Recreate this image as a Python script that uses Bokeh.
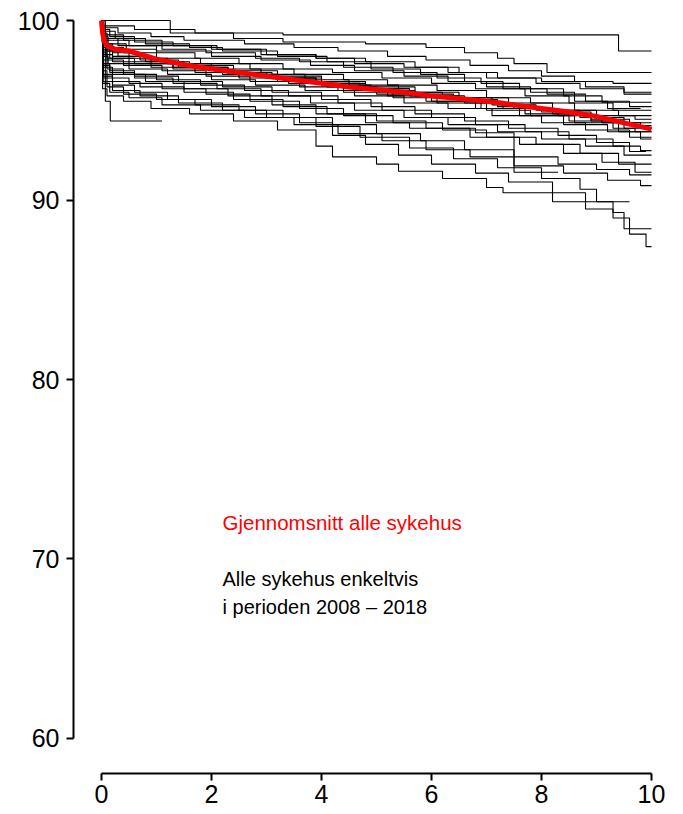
from bokeh.plotting import figure
from bokeh.models import Range1d, FixedTicker
from bokeh.core.properties import value
from bokeh.embed import file_html
from bokeh.resources import INLINE

# ---- data: Kaplan-Meier step curves per hospital (years, survival %) ----
h01 = [(0,100),(1.25,99.3),(3.3,99.2),(9.4,98.3),(10,98.3)]
h02 = [(0,100),(0.04,99.7),(0.6,99.5),(1.7,99.3),(2.4,99.0),(3.3,98.8),(4.8,98.7),(5.9,98.5),(6.6,98.2),(7.2,97.9),(7.5,97.6),(8.1,97.1),(10,97.1)]
h03 = [(0,100),(0.03,99.6),(0.3,99.3),(0.9,99.1),(1.5,98.9),(2.6,98.7),(3.5,98.5),(4.3,98.3),(5.2,98.0),(5.9,97.8),(6.7,97.5),(7.4,97.2),(8.0,96.9),(8.6,96.6),(9.3,96.5),(10,96.5)]
h04 = [(0,100),(0.02,99.5),(0.15,99.1),(0.6,98.8),(1.3,98.6),(2.1,98.4),(3.0,98.1),(3.9,97.9),(4.6,97.6),(5.5,97.4),(6.3,97.1),(7.0,96.8),(7.9,96.5),(8.7,96.2),(9.5,95.9),(10,95.9)]
h05 = [(0,100),(0.02,99.3),(0.1,98.9),(0.5,98.6),(1.1,98.4),(1.9,98.2),(2.8,97.9),(3.6,97.7),(4.4,97.4),(5.3,97.1),(6.1,96.8),(6.9,96.5),(7.6,96.2),(8.4,95.8),(9.1,95.45),(10,95.45)]
h06 = [(0,100),(0.03,99.4),(0.25,99.0),(0.8,98.7),(1.6,98.5),(2.2,98.3),(3.2,98.0),(4.1,97.7),(4.9,97.3),(5.8,97.0),(6.6,96.6),(7.3,96.2),(8.1,95.9),(8.8,95.5),(9.6,95.2),(10,95.2)]
h07 = [(0,100),(0.02,99.1),(0.12,98.7),(0.45,98.4),(1.0,98.2),(1.7,97.9),(2.5,97.6),(3.3,97.3),(4.2,97.1),(5.1,96.8),(6.0,96.5),(6.8,96.2),(7.7,95.8),(8.5,95.4),(9.3,95.0),(10,95.0)]
h08 = [(0,100),(0.02,98.9),(0.1,98.5),(0.4,98.2),(1.0,97.9),(1.8,97.6),(2.7,97.3),(3.5,97.0),(4.4,96.7),(5.2,96.4),(6.1,96.1),(7.0,95.7),(7.8,95.4),(8.6,95.0),(9.4,94.7),(10,94.7)]
h09 = [(0,100),(0.02,98.6),(0.08,98.3),(0.3,98.0),(0.9,97.7),(1.6,97.5),(2.4,97.2),(3.2,96.9),(4.0,96.6),(4.8,96.3),(5.7,96.0),(6.5,95.7),(7.4,95.4),(8.2,95.0),(9.0,94.7),(9.7,94.5),(10,94.5)]
h10 = [(0,100),(0.01,98.8),(0.1,98.3),(0.5,97.9),(1.2,97.6),(2.0,97.3),(2.9,97.0),(3.7,96.7),(4.5,96.4),(5.4,96.0),(6.2,95.7),(7.1,95.3),(7.9,95.0),(8.7,94.6),(9.5,94.3),(10,94.3)]
h11 = [(0,100),(0.02,98.4),(0.15,97.9),(0.6,97.6),(1.3,97.3),(2.2,97.0),(3.0,96.8),(3.9,96.5),(4.7,96.2),(5.6,95.9),(6.4,95.6),(7.2,95.2),(8.0,94.9),(8.9,94.5),(9.6,94.15),(10,94.15)]
h12 = [(0,100),(0.03,98.7),(0.2,98.2),(0.7,97.8),(1.4,97.4),(2.3,97.1),(3.1,96.8),(4.0,96.4),(4.9,96.1),(5.7,95.8),(6.6,95.4),(7.5,95.1),(8.3,94.7),(9.1,94.3),(9.8,94.0),(10,94.0)]
h13 = [(0,100),(0.02,98.2),(0.1,97.8),(0.4,97.5),(1.1,97.2),(1.9,96.9),(2.7,96.6),(3.6,96.3),(4.4,96.0),(5.3,95.7),(6.1,95.4),(7.0,95.0),(7.8,94.7),(8.6,94.3),(9.4,93.8),(10,93.8)]
h14 = [(0,100),(0.02,98.0),(0.12,97.6),(0.5,97.3),(1.2,97.0),(2.0,96.7),(2.8,96.4),(3.7,96.1),(4.6,95.8),(5.5,95.4),(6.3,95.1),(7.1,94.7),(8.0,94.3),(8.8,93.9),(9.6,93.5),(10,93.5)]
h15 = [(0,100),(0.03,98.5),(0.2,98.0),(0.8,97.7),(1.5,97.4),(2.3,97.0),(3.2,96.6),(4.1,96.3),(5.0,95.9),(5.9,95.5),(6.8,95.1),(7.6,94.7),(8.4,94.2),(9.2,93.8),(9.8,93.4),(10,93.4)]
h16 = [(0,100),(0.02,97.8),(0.1,97.3),(0.4,97.0),(1.0,96.7),(1.8,96.4),(2.6,96.1),(3.4,95.8),(4.3,95.4),(5.1,95.0),(6.0,94.6),(6.8,94.2),(7.7,93.8),(8.5,93.4),(9.3,93.0),(9.8,92.75),(10,92.75)]
h17 = [(0,100),(0.02,97.5),(0.15,97.1),(0.6,96.8),(1.3,96.5),(2.1,96.2),(2.9,95.8),(3.8,95.4),(4.6,95.0),(5.5,94.6),(6.3,94.2),(7.2,93.8),(8.0,93.4),(8.8,93.0),(9.5,92.5),(10,92.5)]
h18 = [(0,100),(0.02,97.2),(0.1,96.8),(0.5,96.5),(1.1,96.2),(1.9,95.9),(2.7,95.5),(3.6,95.1),(4.4,94.7),(5.3,94.3),(6.2,93.9),(7.0,93.5),(7.9,93.1),(8.7,92.6),(9.4,92.0),(10,92.0)]
h19 = [(0,100),(0.02,97.0),(0.2,96.6),(0.7,96.3),(1.5,96.0),(2.4,95.6),(3.3,95.2),(4.1,94.8),(5.0,94.4),(5.9,94.0),(6.7,93.5),(7.6,93.1),(8.4,92.6),(9.1,92.1),(9.7,91.55),(10,91.55)]
h20 = [(0,100),(0.02,96.8),(0.1,96.3),(0.4,95.9),(1.0,95.6),(1.7,95.3),(2.5,95.0),(3.3,94.6),(4.2,94.2),(5.0,93.7),(5.8,93.3),(6.6,92.8),(7.5,92.4),(8.3,92.0),(9.0,91.7),(9.6,91.4),(10,91.4)]
h21 = [(0,100),(0.02,96.5),(0.15,96.0),(0.5,95.7),(1.1,95.3),(1.8,95.0),(2.6,94.6),(3.5,94.2),(4.3,93.7),(5.1,93.3),(5.9,92.8),(6.7,92.4),(7.5,91.9),(8.4,91.5),(9.2,91.1),(9.8,90.8),(10,90.8)]
h22 = [(0,100),(0.03,96.9),(0.2,96.4),(0.6,96.0),(1.2,95.6),(2.0,95.2),(2.8,94.8),(3.6,94.3),(4.2,93.6),(4.8,93.1),(5.4,92.5),(6.0,92.0),(6.8,91.5),(7.4,91.0),(8.2,90.4),(8.8,89.9),(9.3,89.3),(9.5,88.4),(10,88.4)]
h23 = [(0,100),(0.02,96.2),(0.1,95.8),(0.4,95.5),(0.9,95.1),(1.6,94.8),(2.4,94.4),(3.2,93.9),(3.9,93.0),(4.2,92.4),(5.0,92.0),(5.4,91.6),(6.2,91.2),(7.0,90.7),(7.3,90.4),(8.2,89.9),(8.8,89.5),(9.3,89.0),(9.6,88.1),(9.9,87.4),(10,87.4)]
h24 = [(0,100),(0.03,96.6),(0.2,96.1),(0.7,95.8),(1.4,95.4),(2.2,95.0),(3.0,94.6),(3.9,94.1),(4.7,93.5),(5.6,92.9),(6.4,92.3),(7.2,91.8),(8.0,91.2),(8.7,90.6),(9.0,89.9),(9.6,89.9)]
h25 = [(0,100),(0.07,95.5),(0.16,94.4),(1.1,94.4)]
h26 = [(0,100),(0.02,97.4),(0.2,97.0),(0.8,96.6),(1.5,96.2),(2.3,95.8),(3.1,95.3),(3.9,94.8),(4.8,94.3),(5.6,94.0),(6.8,93.75),(7.5,91.55),(8.3,91.55)]
h27 = [(0,100),(0.02,99.0),(0.3,98.6),(1.0,98.3),(2.0,98.0),(2.9,97.8),(3.8,97.5),(4.6,97.2),(5.5,96.9),(6.3,96.6),(7.0,96.3),(7.8,96.0),(8.6,95.5),(9.2,95.1),(9.8,95.1)]
h28 = [(0,100),(0.02,98.3),(0.1,97.9),(0.5,97.6),(1.3,97.4),(2.1,97.1),(3.0,96.8),(3.9,96.5),(4.8,96.2),(5.6,95.8),(6.5,95.5),(7.3,95.1),(8.2,94.8),(8.9,94.4),(9.5,94.0),(10,94.0)]
h29 = [(0,100),(0.02,97.6),(0.15,97.2),(0.6,96.9),(1.4,96.6),(2.2,96.3),(3.1,96.0),(4.0,95.6),(4.9,95.2),(5.7,94.8),(6.6,94.4),(7.4,94.0),(8.3,93.6),(9.0,93.2),(9.6,92.7),(9.9,92.7)]
h30 = [(0,100),(0.04,99.2),(0.4,98.9),(1.1,98.6),(2.0,98.4),(2.9,98.1),(3.9,97.9),(4.8,97.7),(5.7,97.4),(6.5,97.1),(7.2,96.8),(8.0,96.6),(8.8,96.3),(9.5,96.0),(10,96.0)]
h31 = [(0,100),(0.02,98.1),(0.2,97.7),(0.9,97.4),(1.7,97.1),(2.5,96.8),(3.4,96.5),(4.3,96.1),(5.2,95.8),(6.0,95.5),(6.9,95.1),(7.7,94.8),(8.5,94.4),(9.3,94.0),(9.7,93.8),(10,93.8)]

hospitals = [h01, h02, h03, h04, h05, h06, h07, h08, h09, h10, h11, h12, h13, h14, h15, h16,
             h17, h18, h19, h20, h21, h22, h23, h24, h25, h26, h27, h28, h29, h30, h31]

# average of all hospitals
mean_t = [0, 0.02, 0.05, 0.1, 0.25, 0.5, 1.0, 1.5, 2.0, 2.5, 3.0, 3.5, 4.0, 4.5, 5.0, 5.5,
          6.0, 6.5, 7.0, 7.5, 8.0, 8.5, 9.0, 9.5, 10.0]
mean_s = [100, 99.3, 98.85, 98.6, 98.4, 98.3, 97.85, 97.55, 97.3, 97.1, 96.9, 96.7, 96.5, 96.3,
          96.15, 96.0, 95.8, 95.65, 95.5, 95.3, 95.1, 94.9, 94.65, 94.3, 93.95]

x_ticks = [0, 2, 4, 6, 8, 10]
y_ticks = [60, 70, 80, 90, 100]

label_mean = "Gjennomsnitt alle sykehus"
label_each = ["Alle sykehus enkeltvis", "i perioden 2008 \u2013 2018"]

# ---- figure ----
FONT = "Liberation Sans"
p = figure(width=683, height=814, output_backend="svg", toolbar_location=None,
           x_range=Range1d(-0.509, 10.545), y_range=Range1d(58.05, 100.446),
           min_border_left=73, min_border_right=2, min_border_top=12, min_border_bottom=41)
p.outline_line_color = None
p.xgrid.visible = False
p.ygrid.visible = False
p.background_fill_color = "white"
p.border_fill_color = "white"

for curve in hospitals:
    xs = [c[0] for c in curve]
    ys = [c[1] for c in curve]
    p.step(xs, ys, mode="after", line_color="black", line_width=1.1)

p.line(mean_t, mean_s, line_color="#FF0000", line_width=5, line_join="round")

p.text(x=[2.2], y=[72.03], text=[label_mean], text_color="#FF0000",
       text_font=value(FONT), text_font_size="20.5px", text_baseline="middle", text_align="left")
p.text(x=[2.2, 2.2], y=[68.86, 67.30], text=label_each, text_color="black",
       text_font=value(FONT), text_font_size="20px", text_baseline="middle", text_align="left")

for ax, ticks, bnds in ((p.xaxis, x_ticks, (0, 10)), (p.yaxis, y_ticks, (60, 100))):
    ax.ticker = FixedTicker(ticks=ticks)
    ax.bounds = bnds
    ax.axis_line_width = 2
    ax.axis_line_color = "black"
    ax.major_tick_line_width = 2
    ax.major_tick_line_color = "black"
    ax.major_tick_out = 7
    ax.major_tick_in = 0
    ax.minor_tick_line_color = None
    ax.major_label_text_font = FONT
    ax.major_label_text_font_size = "25px"
    ax.major_label_text_color = "black"

p.yaxis.major_label_standoff = 7
p.xaxis.major_label_standoff = 4

open("out.html", "w").write(file_html(p, INLINE))
